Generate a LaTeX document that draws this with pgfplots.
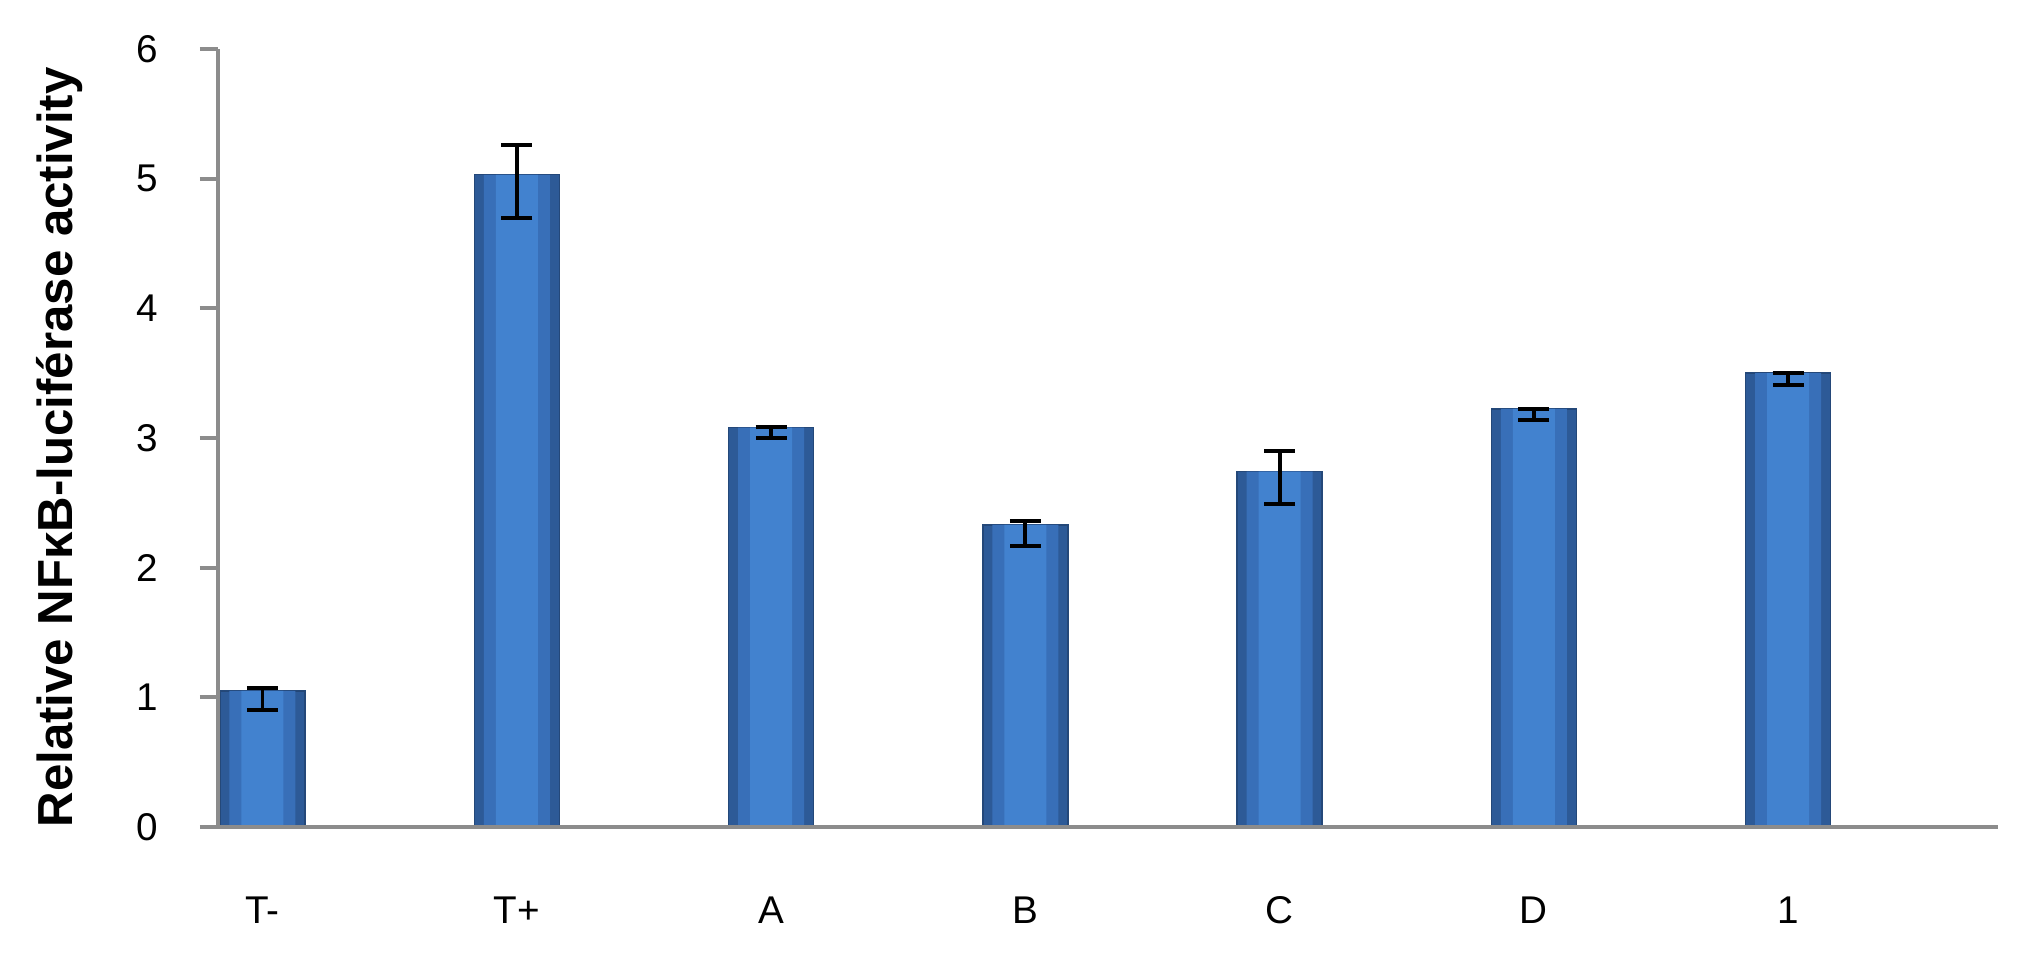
\documentclass[border=0pt]{standalone}
\usepackage{fontspec}
\setmainfont{Liberation Sans}
\usepackage{pgfplots}
\usepackage{pgfplotstable}
\pgfplotsset{compat=1.18}
\definecolor{barout}{HTML}{2D5A97}
\definecolor{barmid}{HTML}{386FB8}
\definecolor{barin}{HTML}{4282CF}
\definecolor{axisgray}{HTML}{8C8C8C}

% x = slot position of the bar, ep/em = upper/lower error
\pgfplotstableread{
x     y     ep    em
0.175 1.05  0.025 0.15
1.175 5.03  0.23  0.33
2.175 3.08  0.005 0.08
3.175 2.33  0.03  0.16
4.175 2.74  0.16  0.25
5.175 3.225 0.0   0.085
6.175 3.50  0.0   0.09
}\lucdata

\begin{document}
\begin{tikzpicture}
\useasboundingbox (-2.18,-1.28) rectangle (18.15,8.27);
\begin{axis}[
  at={(0,0)}, anchor=south west,
  scale only axis, width=17.8cm, height=7.78cm,
  xmin=0, xmax=7, ymin=0, ymax=6,
  axis x line=bottom, axis y line=left,
  axis line style={-, axisgray, line width=1.2pt},
  axis on top,
  ybar, bar shift=0pt,
  xtick=data, xticklabels={T-, T+, A, B, C, D, 1},
  xtick style={draw=none},
  ytick={0,1,...,6},
  tick align=outside, major tick length=0.18cm,
  ytick style={axisgray, line width=1.2pt},
  /pgf/number format/assume math mode=true,
  tick label style={font=\fontsize{11}{13}\selectfont},
  xticklabel style={yshift=-0.39cm},
  yticklabel style={xshift=-0.3cm},
  ylabel={Relative NFκB-luciférase activity},
  ylabel style={font=\bfseries\fontsize{14}{16}\selectfont,
    at={(axis description cs:-0.0888,0.488)}, anchor=center},
]
% three nested layers give the bars their darker edges
\addplot[bar width=0.85cm, fill=barout, draw=barout!80!black, line width=0.4pt]
  table[x=x, y=y] {\lucdata};
\addplot[bar width=0.66cm, fill=barmid, draw=none]
  table[x=x, y=y] {\lucdata};
\addplot[bar width=0.42cm, fill=barin, draw=none,
  error bars/.cd, y dir=both, y explicit,
  error bar style={line width=1.1pt, black},
  error mark options={rotate=90, mark size=0.155cm, line width=1.1pt, black}]
  table[x=x, y=y, y error plus=ep, y error minus=em] {\lucdata};
\end{axis}
\end{tikzpicture}
\end{document}
